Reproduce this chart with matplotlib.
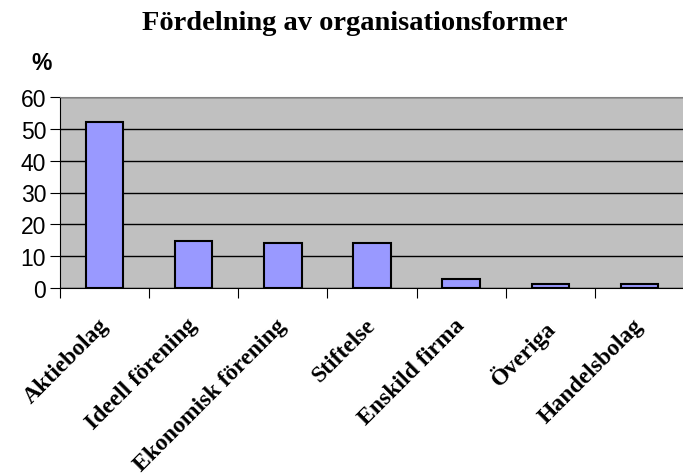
import numpy as np
import matplotlib
matplotlib.use('Agg')
import matplotlib.pyplot as plt

categories = ['Aktiebolag', 'Ideell förening', 'Ekonomisk förening', 'Stiftelse',
              'Enskild firma', 'Överiga', 'Handelsbolag']
values = [52.0, 14.8, 14.2, 14.2, 2.9, 1.3, 1.3]
yticks = [0, 10, 20, 30, 40, 50, 60]

fig = plt.figure(figsize=(6.83, 4.77), dpi=100)
ax = fig.add_axes([60/683, 1 - 289/477, 624/683, 191/477])

x = np.arange(len(categories))
ax.set_facecolor('#C0C0C0')
ax.set_axisbelow(True)
ax.yaxis.grid(True, color='black', linewidth=1)
ax.bar(x, values, width=0.42, color='#9999FF', edgecolor='black', linewidth=1.5, zorder=3)

ax.set_xlim(-0.5, len(categories) - 0.5)
ax.set_ylim(0, 60)
ax.set_yticks(yticks)
ax.set_yticklabels([str(t) for t in yticks], fontsize=16.5, family='Liberation Sans')

# ticks sit between categories, labels centered under bars
ax.set_xticks(np.arange(len(categories) + 1) - 0.5)
ax.set_xticklabels([])
ax.tick_params(axis='x', length=7, color='black', direction='out')
ax.tick_params(axis='y', length=7, color='black', direction='out', pad=3)
for i, c in enumerate(categories):
    ax.annotate(c, xy=(i, 0), xycoords=('data', 'axes fraction'),
                xytext=(-5, -19), textcoords='offset points',
                rotation=45, ha='right', va='top', rotation_mode='anchor',
                fontsize=17, fontweight='bold', family='Liberation Serif')

ax.spines['right'].set_visible(False)
ax.spines['top'].set_color('#808080')
ax.spines['left'].set_color('black')
ax.spines['bottom'].set_color('black')

fig.text(355/683, 1 - 24/477, 'Fördelning av organisationsformer', ha='center', va='center',
         fontsize=20.5, fontweight='bold', family='Liberation Serif')
fig.text(42/683, 1 - 63/477, '%', ha='center', va='center',
         fontsize=16.5, fontweight='bold', family='Liberation Sans')

fig.savefig('out.png', dpi=100)
